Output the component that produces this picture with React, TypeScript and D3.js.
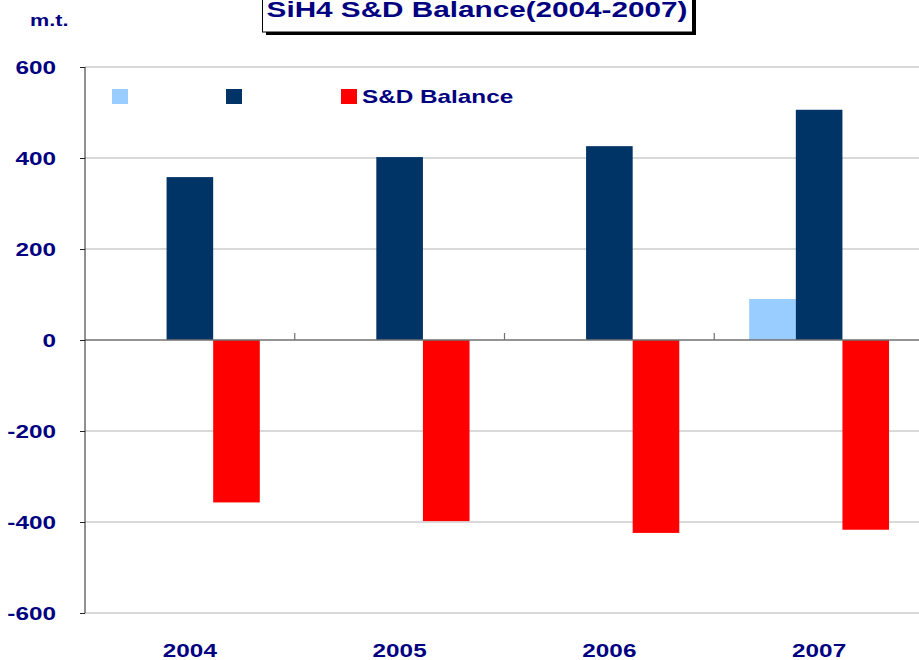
import * as d3 from "d3";
import React, { useEffect, useRef } from "react";

const years = ["2004", "2005", "2006", "2007"];
const seriesNames = ["", "", "S&D Balance"];
const seriesColors = ["#99CCFF", "#003366", "#FF0000"];
const supply = [0, 0, 0, 90];
const demand = [358, 402, 426, 506];
const balance = [-357, -398, -424, -417];
const yTicks = [-600, -400, -200, 0, 200, 400, 600];

const W = 919;
const H = 660;
const navy = "#000080";
const font = "Arial, 'Liberation Sans', sans-serif";
const stretch = 1.35; // the original picture is stretched sideways

export default function App() {
  const svgRef = useRef(null);

  useEffect(() => {
    const svgEl = d3.select(svgRef.current);
    svgEl.selectAll("*").remove();

    const margin = { top: 67, right: -5, bottom: 47, left: 85 };
    const xScale = d3
      .scaleBand()
      .domain(years)
      .range([margin.left, W - margin.right])
      .paddingInner(0)
      .paddingOuter(0);
    const x1 = d3
      .scaleBand()
      .domain(["0", "1", "2"])
      .range([0, xScale.bandwidth()])
      .paddingInner(0)
      .paddingOuter(0.75);
    const yScale = d3
      .scaleLinear()
      .domain([-600, 600])
      .range([H - margin.bottom, margin.top]);

    // gridlines
    svgEl
      .append("g")
      .selectAll("line")
      .data(yTicks.filter((d) => d !== 0))
      .join("line")
      .attr("x1", margin.left)
      .attr("x2", W)
      .attr("y1", (d) => yScale(d))
      .attr("y2", (d) => yScale(d))
      .attr("stroke", "#cccccc")
      .attr("stroke-width", 1.5);

    // bars
    const values = [supply, demand, balance];
    values.forEach((vals, s) => {
      svgEl
        .append("g")
        .selectAll("rect")
        .data(vals)
        .join("rect")
        .attr("x", (d, i) => xScale(years[i]) + x1(String(s)))
        .attr("width", x1.bandwidth())
        .attr("y", (d) => yScale(Math.max(0, d)))
        .attr("height", (d) => Math.abs(yScale(d) - yScale(0)))
        .attr("fill", seriesColors[s]);
    });

    // zero line with category ticks
    svgEl
      .append("line")
      .attr("x1", margin.left)
      .attr("x2", W)
      .attr("y1", yScale(0))
      .attr("y2", yScale(0))
      .attr("stroke", "#707070")
      .attr("stroke-width", 1.5);
    svgEl
      .append("g")
      .selectAll("line")
      .data(years.slice(1))
      .join("line")
      .attr("x1", (d) => xScale(d))
      .attr("x2", (d) => xScale(d))
      .attr("y1", yScale(0) - 7)
      .attr("y2", yScale(0))
      .attr("stroke", "#707070")
      .attr("stroke-width", 1.2);

    // Y axis
    const yAxis = svgEl
      .append("g")
      .attr("transform", "translate(" + margin.left + ",0)")
      .call(
        d3
          .axisLeft(yScale)
          .tickValues(yTicks)
          .tickFormat((d) => String(d))
          .tickSize(5)
          .tickPadding(0)
      );
    yAxis.select(".domain").attr("stroke", "#222").attr("d", "M0," + yScale(600) + "V" + yScale(-600));
    yAxis.selectAll(".tick line").attr("stroke", "#222");
    yAxis
      .selectAll(".tick text")
      .attr("x", -29 / stretch)
      .attr("dy", "0.36em")
      .attr("transform", "scale(" + stretch + ",1)")
      .attr("fill", navy)
      .attr("font-size", "18px")
      .attr("font-weight", "bold")
      .attr("font-family", font);

    // X labels
    svgEl
      .append("g")
      .selectAll("text")
      .data(years)
      .join("text")
      .attr("transform", (d) => "translate(" + (xScale(d) + xScale.bandwidth() / 2) + ",657) scale(" + stretch + ",1)")
      .attr("text-anchor", "middle")
      .attr("fill", navy)
      .attr("font-size", "18px")
      .attr("font-weight", "bold")
      .attr("font-family", font)
      .text((d) => d);

    // legend
    const legendX = [112, 226, 341];
    const legend = svgEl
      .append("g")
      .selectAll("g")
      .data(seriesNames)
      .join("g")
      .attr("transform", (d, i) => "translate(" + legendX[i] + ",89)");
    legend
      .append("rect")
      .attr("width", 16)
      .attr("height", 15)
      .attr("fill", (d, i) => seriesColors[i]);
    legend
      .append("text")
      .attr("transform", "translate(21,14) scale(" + stretch + ",1)")
      .attr("fill", navy)
      .attr("font-size", "18px")
      .attr("font-weight", "bold")
      .attr("font-family", font)
      .text((d) => d);

    // y unit
    svgEl
      .append("text")
      .attr("transform", "translate(30,26) scale(" + stretch + ",1)")
      .attr("fill", navy)
      .attr("font-size", "16px")
      .attr("font-weight", "bold")
      .attr("font-family", font)
      .text("m.t.");

    // title box with shadow (cut off at the top, as in the original)
    svgEl
      .append("rect")
      .attr("x", 266)
      .attr("y", -5)
      .attr("width", 430)
      .attr("height", 40)
      .attr("fill", "#000");
    svgEl
      .append("rect")
      .attr("x", 262.5)
      .attr("y", -5)
      .attr("width", 430)
      .attr("height", 37)
      .attr("fill", "#fff")
      .attr("stroke", "#000")
      .attr("stroke-width", 1);
    svgEl
      .append("text")
      .attr("transform", "translate(477,17) scale(" + stretch + ",1)")
      .attr("text-anchor", "middle")
      .attr("fill", navy)
      .attr("font-size", "22px")
      .attr("font-weight", "bold")
      .attr("font-family", font)
      .text("SiH4 S&D Balance(2004-2007)");
  });

  return (
    <svg
      ref={svgRef}
      width={W}
      height={H}
      style={{ position: "absolute", left: 0, top: 0, background: "#fff" }}
    ></svg>
  );
}
